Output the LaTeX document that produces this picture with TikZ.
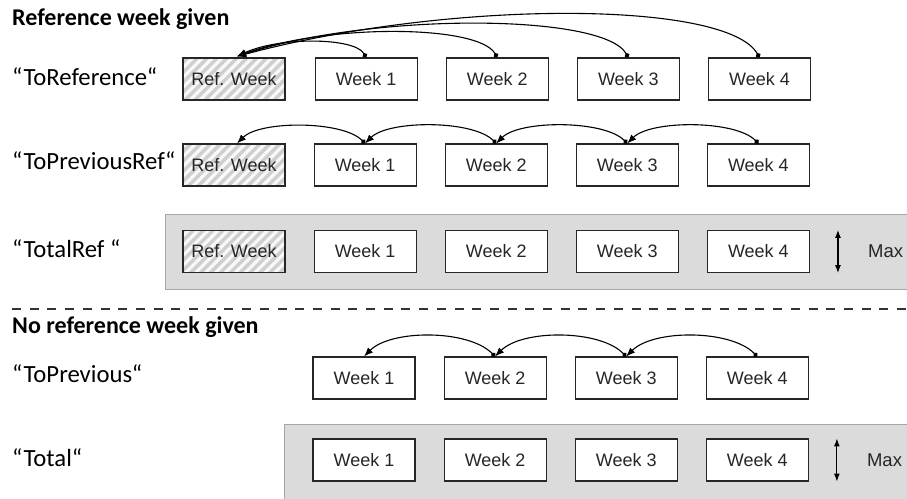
\documentclass[tikz,border=0pt]{standalone}
\usepackage{fontspec}
\setmainfont{Carlito}
\newfontfamily\arialfont{Liberation Sans}
\usetikzlibrary{arrows.meta, positioning, patterns.meta}

\begin{document}
\begin{tikzpicture}[
  x=1pt, y=1pt,
  >={Latex[length=9pt,width=7pt]},
  node distance=28pt,
  week/.style={draw=black!85, line width=1.1pt, fill=white, rectangle, minimum width=102pt, minimum height=42pt, inner sep=0pt, font=\arialfont\fontsize{18}{20}\selectfont, text=black!85},
  refweek/.style={draw=black!85, line width=1.1pt, rectangle, minimum width=102pt, minimum height=42pt, inner sep=0pt, font=\arialfont\fontsize{18}{20}\selectfont, text=black!85,
    preaction={fill=gray!38}, pattern={Lines[angle=45,distance=7pt,line width=3.2pt]}, pattern color=white!95!gray},
  rowlabel/.style={anchor=base west, inner sep=0pt, font=\fontsize{24.7}{28}\selectfont, text=black},
  heading/.style={anchor=base west, inner sep=0pt, font=\bfseries\fontsize{24}{28}\selectfont, text=black},
  maxlabel/.style={anchor=west, inner sep=0pt, font=\arialfont\fontsize{18.5}{20}\selectfont, text=black!85},
  panel/.style={draw=gray!70, line width=0.8pt, fill=gray!28},
  link/.style={{Circle[length=5pt]}->, line width=1.1pt},
  maxarrow/.style={{Latex[length=8pt,width=6pt]}-{Latex[length=8pt,width=6pt]}, line width=1.1pt},
  separator/.style={dash pattern=on 9pt off 8.7pt, line width=2pt, black!80}
]
  \path[use as bounding box, clip] (0,0) rectangle (907,498);

  % Fondos grises de los totales
  \draw[panel] (165,209) rectangle (920,284);
  \draw[panel] (284,74) rectangle (920,-10);

  % Con semana de referencia
  \node[heading] (title1) at (12,472) {Reference week given};

  % Fila 1: ToReference
  \node[rowlabel] (lbla) at (12,412) {“ToReference“};
  \node[refweek] (refa) at (234,419) {Ref. Week};
  \node[week, right=of refa] (a1) {Week 1};
  \node[week, right=of a1] (a2) {Week 2};
  \node[week, right=of a2] (a3) {Week 3};
  \node[week, right=of a3] (a4) {Week 4};

  \draw[link] (a1.north) to[out=120, in=25, out distance=23pt, in distance=47pt] ([xshift=3pt]refa.north);
  \draw[link] (a2.north) to[out=120, in=20, out distance=38pt, in distance=96pt] ([xshift=3pt]refa.north);
  \draw[link] (a3.north) to[out=120, in=18, out distance=51pt, in distance=142pt] ([xshift=3pt]refa.north);
  \draw[link] (a4.north) to[out=120, in=15, out distance=66pt, in distance=220pt] ([xshift=3pt]refa.north);

  % Fila 2: ToPreviousRef
  \node[rowlabel] (lblb) at (12,328) {“ToPreviousRef“};
  \node[refweek] (refb) at (234,333) {Ref. Week};
  \node[week, right=of refb] (b1) {Week 1};
  \node[week, right=of b1] (b2) {Week 2};
  \node[week, right=of b2] (b3) {Week 3};
  \node[week, right=of b3] (b4) {Week 4};

  \draw[link] (b1.north) to[out=135, in=45, looseness=0.65] ([xshift=3pt]refb.north);
  \draw[link] (b2.north) to[out=135, in=45, looseness=0.65] (b1.north);
  \draw[link] (b3.north) to[out=135, in=45, looseness=0.65] (b2.north);
  \draw[link] (b4.north) to[out=135, in=45, looseness=0.65] (b3.north);

  % Fila 3: TotalRef
  \node[rowlabel] (lblc) at (12,240) {“TotalRef “};
  \node[refweek] (refc) at (234,246.5) {Ref. Week};
  \node[week, right=of refc] (c1) {Week 1};
  \node[week, right=of c1] (c2) {Week 2};
  \node[week, right=of c2] (c3) {Week 3};
  \node[week, right=of c3] (c4) {Week 4};
  \node[maxlabel, right=58pt of c4.east] (maxc) {Max};
  \draw[maxarrow] ([xshift=28pt]c4.north east) -- ([xshift=28pt]c4.south east);

  % Separador
  \draw[separator] (12,189) -- (920,189);

  % Sin semana de referencia
  \node[heading] (title2) at (12,164) {No reference week given};

  % Fila 4: ToPrevious
  \node[rowlabel] (lbld) at (12,115) {“ToPrevious“};
  \node[week] (d1) at (364,120) {Week 1};
  \node[week, right=of d1] (d2) {Week 2};
  \node[week, right=of d2] (d3) {Week 3};
  \node[week, right=of d3] (d4) {Week 4};

  \draw[link] (d2.north) to[out=135, in=45, looseness=0.75] (d1.north);
  \draw[link] (d3.north) to[out=135, in=45, looseness=0.75] (d2.north);
  \draw[link] (d4.north) to[out=135, in=45, looseness=0.75] (d3.north);

  % Fila 5: Total
  \node[rowlabel] (lble) at (12,32) {“Total“};
  \node[week] (e1) at (364,38) {Week 1};
  \node[week, right=of e1] (e2) {Week 2};
  \node[week, right=of e2] (e3) {Week 3};
  \node[week, right=of e3] (e4) {Week 4};
  \node[maxlabel, right=58pt of e4.east] (maxe) {Max};
  \draw[maxarrow] ([xshift=28pt]e4.north east) -- ([xshift=28pt]e4.south east);

\end{tikzpicture}
\end{document}
